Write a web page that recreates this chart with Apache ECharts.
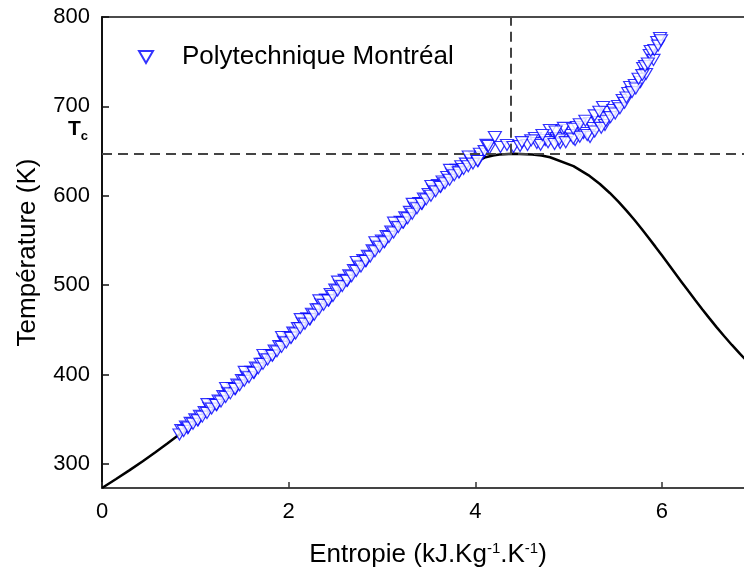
<!DOCTYPE html>
<html><head><meta charset="utf-8">
<script src="https://cdn.jsdelivr.net/npm/echarts@6/dist/echarts.min.js"></script>
<style>html,body{margin:0;padding:0;background:#fff}#c{width:744px;height:573px}</style>
</head><body><div id="c"></div>
<script>
// Saturation curve (liquid side), entropy kJ/kg.K and temperature K
const liquidS = [0, 0.1511, 0.2965, 0.4368, 0.5724, 0.7038, 0.8313, 0.9551, 1.0756, 1.1929, 1.3072, 1.4188, 1.5279, 1.6346, 1.7392, 1.8418, 1.9426, 2.0417, 2.1392, 2.2355, 2.3305, 2.4245, 2.5177, 2.6099, 2.7020, 2.7935, 2.8848, 2.9763, 3.0683, 3.1611, 3.2552, 3.3512, 3.4500, 3.5528, 3.6616, 3.7800, 3.9167, 4.1112, 4.19, 4.26, 4.407];
const liquidT = [273.16, 283.15, 293.15, 303.15, 313.15, 323.15, 333.15, 343.15, 353.15, 363.15, 373.15, 383.15, 393.15, 403.15, 413.15, 423.15, 433.15, 443.15, 453.15, 463.15, 473.15, 483.15, 493.15, 503.15, 513.15, 523.15, 533.15, 543.15, 553.15, 563.15, 573.15, 583.15, 593.15, 603.15, 613.15, 623.15, 633.15, 643.15, 645.15, 646.15, 647.1];
// Saturation curve (vapour side)
const vaporS = [4.407, 4.61, 4.71, 4.8012, 5.0526, 5.2112, 5.3357, 5.4417, 5.5362, 5.6230, 5.7045, 5.7821, 5.8571, 5.9301, 6.0019, 6.0730, 6.1437, 6.2146, 6.2861, 6.3585, 6.4323, 6.5079, 6.5857, 6.6663, 6.7502, 6.8379, 6.9299, 7.0269];
const vaporT = [647.1, 646.15, 645.15, 643.15, 633.15, 623.15, 613.15, 603.15, 593.15, 583.15, 573.15, 563.15, 553.15, 543.15, 533.15, 523.15, 513.15, 503.15, 493.15, 483.15, 473.15, 463.15, 453.15, 443.15, 433.15, 423.15, 413.15, 403.15];
// Measured points (Polytechnique Montréal)
const measuredS = [
  0.85, 0.90, 0.95, 1.00, 1.05, 1.10, 1.15, 1.20, 1.25, 1.30, 1.35, 1.40, 1.45, 1.50, 1.55, 1.60, 1.65, 1.70, 1.75, 1.80,
  1.85, 1.90, 1.95, 2.00, 2.05, 2.10, 2.15, 2.20, 2.25, 2.30, 2.35, 2.40, 2.45, 2.50, 2.55, 2.60, 2.65, 2.70, 2.75, 2.80,
  2.85, 2.90, 2.95, 3.00, 3.05, 3.10, 3.15, 3.20, 3.25, 3.30, 3.35, 3.40, 3.45, 3.50, 3.55, 3.60, 3.65, 3.70, 3.75, 3.80,
  3.85, 3.90, 3.95, 4.00, 4.05, 4.10, 4.15,
  0.83, 0.92, 1.03, 1.13, 1.23, 1.33, 1.43, 1.53, 1.63, 1.73, 1.83, 1.93, 2.03, 2.13, 2.23, 2.33, 2.43, 2.53, 2.63, 2.73,
  2.83, 2.93, 3.03, 3.13, 3.23, 3.33, 3.43, 3.53, 3.63, 3.73, 3.83, 3.93, 4.03, 4.12,
  0.875, 0.925, 0.975, 1.025, 1.075, 1.125, 1.175, 1.225, 1.275, 1.325, 1.375, 1.425, 1.475, 1.525, 1.575, 1.625, 1.675, 1.725, 1.775, 1.825,
  1.875, 1.925, 1.975, 2.025, 2.075, 2.125, 2.175, 2.225, 2.275, 2.325, 2.375, 2.425, 2.475, 2.525, 2.575, 2.625, 2.675, 2.725, 2.775, 2.825,
  2.875, 2.925, 2.975, 3.025, 3.075, 3.125, 3.175, 3.225, 3.275, 3.325, 3.375, 3.425, 3.475, 3.525, 3.575, 3.625, 3.675, 3.725, 3.775, 3.825,
  3.875, 3.925, 3.975, 4.025,
  4.14, 4.21, 4.27, 4.34, 4.41, 4.48, 4.56, 4.64, 4.66, 4.75, 4.80, 4.87, 4.94, 5.02, 5.09, 5.16, 5.23, 5.26, 5.31, 5.37,
  5.42, 5.48, 5.53, 5.58, 5.64, 5.66, 5.71, 5.77, 5.80, 5.83, 5.87, 5.91, 5.95, 5.98,
  4.91, 5.07, 5.23, 5.39, 4.70, 4.78, 4.85, 4.90, 4.97, 5.05, 5.12, 5.20, 5.28, 5.35, 5.40, 5.45, 5.50, 5.55, 5.60, 5.62,
  5.68, 5.72, 5.75, 5.79, 5.82, 5.85, 5.88, 5.92, 5.96, 5.99, 4.95, 5.05, 5.12, 5.18, 5.28, 5.33, 4.86, 4.72, 4.60, 4.50
];
const measuredT = [
  338, 342, 346, 350, 354, 358, 363, 367, 371, 376, 380, 385, 389, 394, 398, 403, 408, 412, 417, 422,
  427, 432, 437, 442, 447, 452, 458, 463, 468, 473, 479, 484, 490, 495, 500, 506, 511, 517, 522, 528,
  533, 539, 544, 550, 555, 560, 566, 571, 576, 582, 587, 592, 597, 602, 607, 612, 616, 621, 625, 629,
  633, 636, 640, 643, 647, 650, 653,
  333, 340, 349, 367, 366, 385, 384, 403, 402, 422, 422, 442, 442, 462, 462, 483, 483, 504, 505, 526,
  527, 548, 549, 570, 570, 591, 591, 611, 610, 629, 627, 644, 639, 657,
  337, 341, 345, 349, 353, 357, 362, 366, 370, 375, 379, 384, 388, 393, 397, 402, 407, 412, 417, 421,
  426, 431, 436, 441, 446, 452, 457, 462, 467, 473, 478, 483, 488, 494, 499, 505, 510, 516, 521, 527,
  532, 538, 543, 548, 554, 559, 565, 570, 575, 580, 586, 591, 596, 600, 605, 610, 614, 618, 623, 626,
  630, 633, 636, 639,
  655.7, 665.8, 654.6, 656.8, 654.6, 655.7, 656.8, 664.7, 659, 662.4, 673.6, 664.7, 673.6, 668, 677, 670.2, 681.4, 675.8, 682.6, 699.3,
  693.7, 696, 700.4, 707.2, 715, 721.7, 724, 727.3, 743, 736.2, 757.5, 752, 772, 776.5,
  659, 662.4, 665.8, 679.2, 657, 660, 658, 663, 660, 664, 666, 668, 672, 676, 684, 688, 692, 698, 704, 710,
  716, 720, 731, 735, 745, 748, 762, 763, 768, 774, 676, 675, 680, 684, 690, 694, 672, 668, 662, 660
];
// Critical point (as drawn)
const criticalS = [4.38];
const criticalT = [647.1];
const xTicks = [0, 2, 4, 6];
const yTicks = [300, 400, 500, 600, 700, 800];

const curve = liquidS.map((s, i) => [s, liquidT[i]]).concat(vaporS.slice(1).map((s, i) => [s, vaporT[i + 1]]));
const measured = measuredS.map((s, i) => [s, measuredT[i]]);

const FONT = 'Liberation Sans';
const XMAX = 6.88;
const chart = echarts.init(document.getElementById('c'), null, {renderer: 'canvas'});
chart.setOption({
  animation: false,
  backgroundColor: '#fff',
  grid: {left: 102, right: 0, top: 17, bottom: 85},
  legend: {
    left: 133, top: 39, itemWidth: 14, itemHeight: 12,
    icon: 'path://M0,0L14,0L7,12Z',
    data: ['Polytechnique Montréal'],
    textStyle: {fontFamily: FONT, fontSize: 26, color: '#000', padding: [0, 0, 0, 24]}
  },
  graphic: [{
    type: 'text', left: 68, top: 119,
    style: {
      text: '{t|T}{c|c}',
      rich: {
        t: {fontFamily: FONT, fontSize: 21, fontWeight: 'bold', fill: '#000'},
        c: {fontFamily: FONT, fontSize: 13, fontWeight: 'bold', fill: '#000', padding: [13, 0, 0, 0]}
      }
    }
  }],
  xAxis: [{
    type: 'value', min: 0, max: XMAX,
    name: 'Entropie (kJ.Kg{s|-1}.K{s|-1})',
    nameLocation: 'middle', nameGap: 53,
    nameTextStyle: {fontFamily: FONT, fontSize: 26, color: '#000', padding: [0, 0, 0, 10],
      rich: {s: {fontFamily: FONT, fontSize: 15, color: '#000', padding: [0, 0, 12, 0]}}},
    axisLine: {lineStyle: {color: '#444', width: 2}},
    axisTick: {inside: true, length: 6, customValues: xTicks, lineStyle: {color: '#333', width: 1.5}},
    axisLabel: {customValues: xTicks, margin: 13, fontFamily: FONT, fontSize: 22, color: '#000'},
    splitLine: {show: false}
  }, {
    type: 'value', position: 'top', min: 0, max: XMAX,
    axisLine: {lineStyle: {color: '#111', width: 1.5}},
    axisTick: {show: false}, axisLabel: {show: false}, splitLine: {show: false}
  }],
  yAxis: {
    type: 'value', min: 273.16, max: 800,
    name: 'Température (K)',
    nameLocation: 'middle', nameGap: 61,
    nameTextStyle: {fontFamily: FONT, fontSize: 26, color: '#000'},
    axisLine: {lineStyle: {color: '#111', width: 2}},
    axisTick: {inside: true, length: 7, customValues: yTicks, lineStyle: {color: '#111', width: 1.5}},
    axisLabel: {customValues: yTicks, margin: 12, fontFamily: FONT, fontSize: 22, color: '#000'},
    splitLine: {show: false}
  },
  series: [
    {
      name: 'saturation', type: 'line', data: curve, showSymbol: false, symbol: 'none',
      lineStyle: {color: '#000', width: 2.5}, z: 2,
      markLine: {
        silent: true, symbol: 'none', label: {show: false},
        lineStyle: {color: '#444', type: [10, 6], width: 2},
        data: [
          [{coord: [0, criticalT[0]]}, {coord: [XMAX, criticalT[0]]}],
          [{coord: [criticalS[0], criticalT[0]]}, {coord: [criticalS[0], 800]}]
        ]
      }
    },
    {
      name: 'Polytechnique Montréal', type: 'scatter', data: measured,
      symbol: 'triangle', symbolRotate: 180, symbolSize: [13, 11],
      itemStyle: {color: '#ffffff', borderColor: '#0000ff', borderWidth: 1.2},
      z: 3
    }
  ]
});
</script></body></html>
